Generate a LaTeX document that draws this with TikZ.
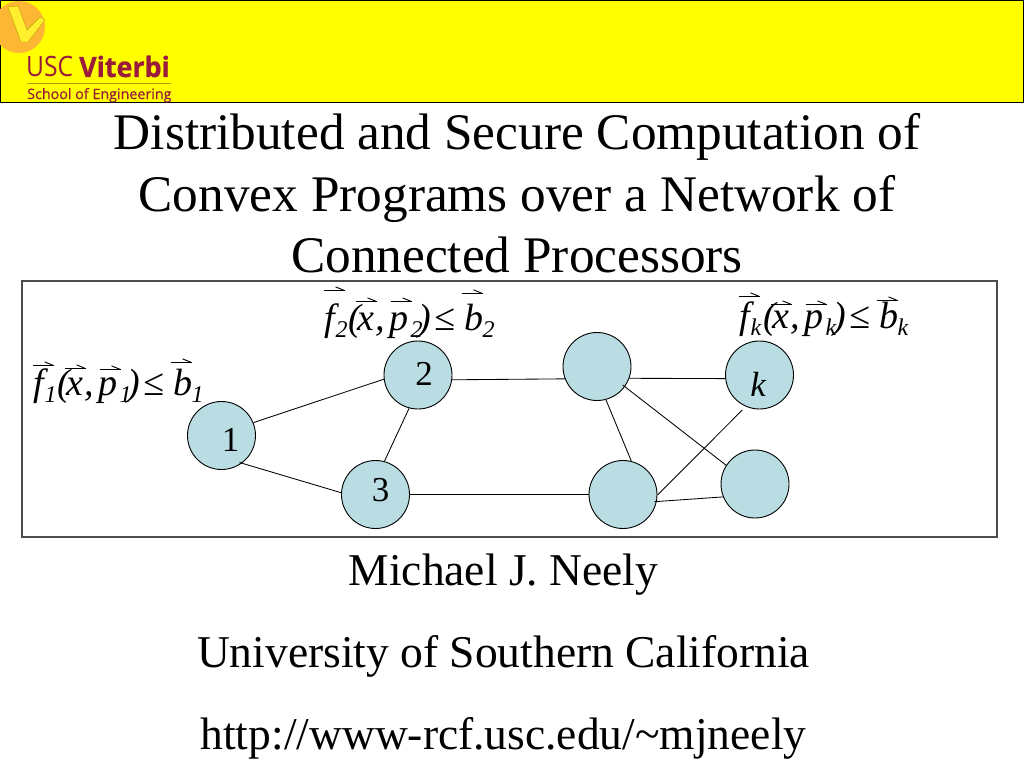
\documentclass[tikz,border=0pt]{standalone}
\usepackage{fontspec}
\usepackage{graphicx}
\setmainfont{Liberation Serif}
\newfontfamily\logofont{Open Sans}
\newfontfamily\logomed[FakeBold=0.3]{Open Sans}
\newfontfamily\logoheavy[BoldFeatures={FakeBold=0.7}]{Open Sans}
% harpoon: x offset, height above the baseline
\newcommand{\hrp}[2]{\rlap{\kern#1\raisebox{#2}{\rlap{\rule{21pt}{0.9pt}}\kern11.7pt\raisebox{3.7pt}{\rotatebox{-22}{\rule{10pt}{0.9pt}}}}}}
% glyph at an x offset
\newcommand{\plc}[2]{\rlap{\kern#1\textit{#2}}}
\newcommand{\sbs}[2]{\rlap{\kern#1\raisebox{-7pt}{\textit{\fontsize{24}{24}\selectfont #2}}}}
% subscript, harpoon heights over f, x, p, b
\newcommand{\frm}[5]{\leavevmode
  \hrp{2pt}{#2}\plc{3pt}{f}\sbs{14pt}{#1}\plc{27pt}{(}%
  \hrp{34pt}{#3}\plc{36pt}{x}\plc{54pt}{,}%
  \hrp{69pt}{#4}\plc{68pt}{p}\sbs{89pt}{#1}\plc{97pt}{)}%
  \plc{113pt}{≤}\hrp{140pt}{#5}\plc{143pt}{b}\sbs{161pt}{#1}}
\definecolor{bannerfill}{HTML}{FFFF00}
\definecolor{nodefill}{HTML}{B9DDE2}
\definecolor{logored}{HTML}{9A1B3C}
\definecolor{logoorange}{HTML}{FDB734}
\definecolor{logopale}{HTML}{FFEF2E}
\definecolor{logogold}{HTML}{B8A000}
\tikzset{
  proc/.style={circle,draw=black,fill=nodefill,line width=0.9pt,minimum size=68pt,inner sep=0pt},
  numlabel/.style={inner sep=0pt,font=\fontsize{35}{35}\selectfont},
  link/.style={draw=black,line width=0.85pt},
  titletext/.style={font=\fontsize{51.3}{51.3}\selectfont,inner sep=0pt,anchor=base},
  foottext/.style={font=\fontsize{45.5}{45.5}\selectfont,inner sep=0pt,anchor=base},
  formula/.style={font=\fontsize{38}{38}\selectfont,inner sep=0pt,anchor=base west}
}
\begin{document}
\begin{tikzpicture}[x=1pt,y=-1pt]
\useasboundingbox (0,0) rectangle (1024,768);
\fill[white] (0,0) rectangle (1024,768);
% banner
\path[fill=bannerfill,draw=black,line width=1pt] (0,0.5) rectangle (1023.5,102);
\begin{scope}
\clip (0,0) rectangle (1024,102);
\fill[logoorange] (19,27) circle (26);
\path[fill=logopale,draw=logogold,line width=0.4pt] (8,7) -- (18,6) -- (27,30) -- (40,17) -- (45,20) -- (28,42) -- (21,42) -- cycle;
\end{scope}
\node[anchor=base west,inner sep=0pt,text=logored,font=\logofont\fontsize{28}{28}\selectfont] (usc) at (26,77) {\scalebox{0.88}[1]{USC}};
\node[anchor=base west,inner sep=0pt,text=logored,font=\logoheavy\bfseries\fontsize{28}{28}\selectfont] (vit) at (79,77) {\scalebox{0.96}[1]{Viterbi}};
\fill[logogold] (27,83) rectangle (171,84);
\node[anchor=base west,inner sep=0pt,text=logored,font=\logomed\fontsize{14.3}{14.3}\selectfont] (soe) at (27,99) {School of Engineering};
% title
\node[titletext] (t1) at (517,149) {Distributed and Secure Computation of};
\node[titletext] (t2) at (517,211) {Convex Programs over a Network of};
\node[titletext] (t3) at (517,272) {Connected Processors};
% box
\draw[draw=black!70,line width=1.2pt,fill=white] (22,281) rectangle (997,537);
% nodes
\node[proc] (n1) at (221.5,435.5) {};
\node[proc] (n2) at (418,375) {};
\node[proc] (n3) at (375.5,494.5) {};
\node[proc] (nm) at (597,366.5) {};
\node[proc] (nk) at (759.5,375) {};
\node[proc] (nb) at (623,494.5) {};
\node[proc] (nr) at (755,484) {};
\node[numlabel] (l1) at ([shift={(9,4)}]n1.center) {1};
\node[numlabel] (l2) at ([shift={(6,-1)}]n2.center) {2};
\node[numlabel] (l3) at ([shift={(5,-4)}]n3.center) {3};
\node[numlabel] (lk) at ([shift={(-1,9)}]nk.center) {\textit{k}};
% free ends
\coordinate (mInner) at ([shift={(25.7,18.5)}]nm.center);
\coordinate (kGap) at ([shift={(-17.2,35)}]nk.center);
\coordinate (bInner) at ([shift={(31.3,7.2)}]nb.center);
\coordinate (oInner) at ([shift={(18,27)}]n1.center);
% links
\draw[link] (n1.22.8) -- (n2.187);
\draw[link] (oInner) -- (n3.177);
\draw[link] (n2.-8) -- (nm.201.6);
\draw[link] (n2.-105) -- (n3.75);
\draw[link] (n3.0) -- (nb.180);
\draw[link] (nm.-20.6) -- (nk.186.7);
\draw[link] (mInner) -- (nr.147);
\draw[link] (nm.-75) -- (nb.76);
\draw[link] (kGap) -- (nb.-1);
\draw[link] (bInner) -- (nr.202.8);
% formulas
\node[formula] (f1) at (30,395) {\frm{1}{29pt}{26pt}{25pt}{32pt}};
\node[formula] (f2) at (321,330) {\frm{2}{39pt}{28pt}{28pt}{36pt}};
\node[formula] (fk) at (736,328) {\frm{k}{31pt}{23pt}{23pt}{27pt}};
% footer
\node[foottext] (a1) at (503.5,585) {Michael J. Neely};
\node[foottext] (a2) at (503.5,667) {University of Southern California};
\node[foottext] (a3) at (503.5,749) {http://www-rcf.usc.edu/\textasciitilde mjneely};
\end{tikzpicture}
\end{document}
